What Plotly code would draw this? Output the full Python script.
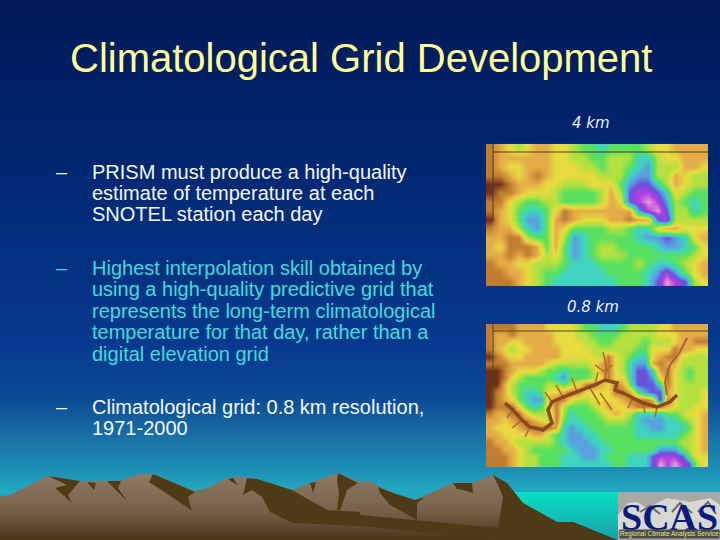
import plotly.graph_objects as go

# background colours read down the slide
bg_rows = [0, 120, 250, 350, 400, 440, 470, 490, 540]
bg_values = [0, 120, 250, 350, 400, 440, 470, 490, 540]
bg_colors = ['#001a56', '#00226a', '#03307f', '#063a90', '#0c4c96', '#1a74a8', '#1c90b4', '#22a8c0', '#22a8c0']

title = 'Climatological Grid Development'
dash_y = [172, 268, 407]
lines_white_1 = ['PRISM must produce a high-quality', 'estimate of temperature at each', 'SNOTEL station each day']
lines_white_1_y = [172, 193, 214]
lines_cyan = ['Highest interpolation skill obtained by', 'using a high-quality predictive grid that',
              'represents the long-term climatological', 'temperature for that day, rather than a', 'digital elevation grid']
lines_cyan_y = [268, 289, 311, 332, 354]
lines_white_2 = ['Climatological grid: 0.8 km resolution,', '1971-2000']
lines_white_2_y = [407, 428]

# elevation-ish class per cell, 0 = pink high, 10 = dark brown low
grid_4km = [
    [9,8,7,6,7,8,8,7,7,6,5,5,4,5,5,5,5,6,7,7,8,8,8,8],
    [9,8,8,8,8,8,8,7,7,6,6,5,5,6,6,6,4,4,6,7,7,8,8,8],
    [9,8,7,7,8,8,8,7,7,7,6,6,5,6,6,5,4,3,6,6,6,8,8,7],
    [9,9,8,7,8,9,8,7,7,7,7,7,6,6,6,4,3,3,6,6,8,7,6,6],
    [10,10,9,8,8,8,7,7,6,6,6,7,7,7,5,3,2,2,4,6,8,7,6,6],
    [10,9,9,8,7,7,7,6,5,5,5,5,6,8,6,2,1,1,2,4,7,6,5,5],
    [9,9,7,6,5,5,6,6,5,5,5,5,6,8,7,2,1,0,1,3,6,5,4,5],
    [9,8,7,5,4,4,5,7,9,8,8,8,8,8,8,8,3,1,0,2,6,6,4,5],
    [10,8,7,5,3,3,5,8,9,8,7,7,7,8,8,9,8,8,2,1,6,6,6,6],
    [9,8,8,6,4,3,5,8,7,5,5,5,5,6,6,5,4,4,7,8,8,7,7,7],
    [8,8,9,9,6,5,5,8,6,3,4,5,5,5,5,5,4,3,3,2,3,4,7,8],
    [8,7,9,9,9,8,5,8,5,3,4,5,6,6,5,5,5,5,4,3,3,4,5,7],
    [8,8,9,8,9,8,6,7,5,3,4,5,6,6,6,5,5,5,5,5,5,5,6,7],
    [9,8,8,7,7,6,6,6,5,4,4,4,5,5,5,5,6,5,4,4,5,6,7,8],
    [9,9,8,8,7,6,5,5,4,4,4,4,4,5,5,5,5,4,3,1,3,5,7,8],
    [9,9,9,8,7,6,5,4,4,4,4,4,4,4,5,5,5,4,2,0,1,2,6,7],
]

grid_08km = [
    [9,9,9,9,8,8,8,8,7,7,7,7,6,5,5,4,4,4,5,6,6,6,6,7,7,8,8,8,8,8],
    [9,8,8,9,8,8,8,8,8,7,7,7,6,6,5,5,5,5,6,6,6,6,6,7,7,7,8,8,8,8],
    [9,8,8,7,7,8,8,8,8,7,7,7,7,6,6,5,5,6,6,6,6,5,6,6,6,7,8,8,9,9],
    [9,8,7,6,7,7,8,8,8,8,7,7,7,7,6,6,6,6,6,6,5,5,7,7,7,9,8,8,7,7],
    [10,9,8,7,7,8,8,8,8,8,7,7,7,7,7,6,9,7,6,5,4,4,7,8,9,9,7,6,6,6],
    [9,9,9,8,8,8,8,8,7,6,6,6,6,6,7,8,9,7,6,4,3,3,8,9,8,8,6,6,6,6],
    [10,10,9,8,7,7,7,6,5,5,4,5,5,5,6,8,9,7,6,4,2,2,4,8,9,7,6,5,6,6],
    [10,10,9,7,6,5,5,5,5,4,3,5,5,5,6,7,9,7,7,4,2,2,3,7,9,7,6,5,6,6],
    [10,10,8,6,5,5,5,5,6,6,5,6,7,9,9,8,7,9,8,5,2,2,2,4,9,7,6,6,6,6],
    [10,9,8,6,5,4,4,5,7,7,8,9,9,7,7,7,7,9,9,8,5,3,2,2,8,7,6,6,6,7],
    [10,9,8,7,5,4,3,3,8,9,9,7,6,6,7,7,7,7,8,9,9,9,8,1,9,7,6,6,6,7],
    [10,9,9,9,7,5,4,5,7,9,6,5,5,5,6,7,8,7,7,8,9,9,9,9,8,7,6,6,7,7],
    [9,8,8,9,9,7,6,6,6,9,6,4,5,5,5,6,7,8,7,6,4,4,4,4,5,5,6,7,7,8],
    [8,8,7,8,9,9,8,7,6,9,5,4,4,5,5,5,6,6,6,5,4,3,3,3,4,4,5,6,7,8],
    [8,7,7,7,8,9,9,9,9,8,4,3,4,4,5,5,5,5,5,5,4,4,3,3,4,4,4,5,7,8],
    [8,8,7,7,7,7,8,8,6,5,4,3,3,4,4,5,5,5,5,5,4,4,4,4,4,4,5,6,7,8],
    [9,8,8,7,6,6,6,6,6,5,4,3,3,3,4,4,5,5,5,5,5,5,5,5,5,5,6,6,7,8],
    [9,9,8,8,7,6,5,5,5,5,5,4,3,3,3,4,4,5,5,5,5,5,5,3,3,3,5,6,7,8],
    [9,9,9,8,7,6,6,5,5,5,4,4,4,3,3,4,5,5,5,4,4,4,2,1,1,1,2,5,7,7],
    [9,9,9,8,7,6,6,5,5,5,4,4,4,4,4,4,4,5,5,4,4,4,2,0,1,0,1,2,6,7],
]

terrain = [
    [0.0, '#e8a0d0'], [0.1, '#b03ee0'], [0.2, '#6a50dc'], [0.3, '#58a0e0'], [0.4, '#40d4c0'],
    [0.5, '#58e060'], [0.6, '#b4e040'], [0.7, '#e8dc40'], [0.8, '#e4ac48'], [0.9, '#c07c30'], [1.0, '#703018'],
]

# canyon on the 0.8 km map
canyon_x = [505,513,522,530,543,552,548,552,563,577,587,595,605,617,615,623,633,643,657,670,677]
canyon_y = [403,410,420,427,430,423,410,402,397,392,388,385,380,383,390,393,398,403,407,402,395]
side_x = [667,665,670,680,687]
side_y = [395,382,365,352,338]
trib_x = [605,606,603,None,514,507,None,522,512,None,530,525,None,552,545,None,563,556,None,577,572,None,595,598,None,
          605,595,None,605,612,None,590,600,None,600,612,None,633,628,None,643,645,None,657,655]
trib_y = [380,365,352,None,408,418,None,420,428,None,427,437,None,402,392,None,397,385,None,392,378,None,385,372,None,
          372,365,None,372,365,None,388,405,None,393,410,None,398,408,None,403,413,None,407,417]

# mountains
ridge_x = [0,10,20,48,80,107,122,140,153,195,207,227,243,257,292,310,338,347,360,370,380,393,415,453,473,493,507,523,557,573,617,0]
ridge_y = [496,495,490,476,481,481,480,474,474,491,488,478,477,479,490,483,473,477,482,481,487,493,500,483,483,475,483,503,522,522,540,540]
shadows = [
    ([48,80,68,72,55,67], [476,481,495,503,488,485]),
    ([87,96,94], [482,483,490]),
    ([107,121,118,127], [481,481,488,501]),
    ([153,195,188,192,172,149], [474,492,497,511,497,482]),
    ([228,233,238,232], [479,478,485,482]),
    ([247,257,292,327,360,360,293,270,262,252,243], [478,479,490,510,512,526,523,512,497,490,495]),
    ([310,316,313], [483,482,493]),
    ([338,358,347,340,337,339,337], [473,483,490,511,510,493,480]),
    ([378,393,415,425,417,417,390,380], [487,493,500,497,503,520,505,493]),
    ([453,472,473,463,457], [483,483,493,490,489]),
    ([493,507,523,557,573,617,547,520,498,503,498], [475,483,503,522,522,540,540,517,528,497,485]),
    ([360,498,520,547,500,360], [515,528,517,540,540,526]),
]

# water patch and logo photo
water_x = [510, 618, 618, 510]
water_y = [492, 492, 540, 540]
logo_x = [618, 720, 720, 618]
logo_y = [492, 492, 540, 540]
snow_x = [618,628,637,647,667,690,710,720,720,618]
snow_y = [515,503,502,508,498,502,498,505,530,530]
rock_x = [640,650,660,None,672,680,692,None,698,708,716]
rock_y = [512,506,514,None,512,503,513,None,512,502,514]


def patch(x, y, **kw):
    return go.Scatter(x=x, y=y, mode='lines', fill='toself', line=dict(width=0), hoverinfo='skip', **kw)


fig = go.Figure()

fig.add_trace(go.Heatmap(x=[0, 720], y=bg_rows, z=[[v, v] for v in bg_values], zsmooth='best', showscale=False, hoverinfo='skip',
                         colorscale=[[r / 540, c] for r, c in zip(bg_rows, bg_colors)], zmin=0, zmax=540))
fig.add_trace(patch(water_x, water_y, fillgradient=dict(type='vertical', colorscale=[[0, '#1aa0a8'], [1, '#08e0c4']])))

fig.add_trace(patch(ridge_x, ridge_y, fillgradient=dict(type='vertical', colorscale=[[0, '#4a3516'], [0.45, '#76634a'], [1, '#8f7b66']])))
for sx, sy in shadows:
    fig.add_trace(patch(sx, sy, fillcolor='#4f3a17'))

fig.add_trace(patch(logo_x, logo_y, fillcolor='#a8a8a4'))
fig.add_trace(patch(snow_x, snow_y, fillcolor='#d8d8d2'))
fig.add_trace(go.Scatter(x=rock_x, y=rock_y, mode='lines', line=dict(color='#6a6a60', width=2), hoverinfo='skip'))

# maps, cell centres spread over their frames
fig.add_trace(go.Heatmap(z=grid_4km, x0=490.6, dx=222 / 24, y0=148.4, dy=142 / 16, colorscale=terrain, zmin=0, zmax=10,
                         zsmooth='best', showscale=False, hoverinfo='skip'))
fig.add_trace(go.Heatmap(z=grid_08km, x0=489.7, dx=222 / 30, y0=327.6, dy=143 / 20, colorscale=terrain, zmin=0, zmax=10,
                         zsmooth='best', showscale=False, hoverinfo='skip'))

fig.add_trace(go.Scatter(x=trib_x, y=trib_y, mode='lines', line=dict(color='#b06a28', width=1.5), hoverinfo='skip'))
fig.add_trace(go.Scatter(x=side_x, y=side_y, mode='lines', line=dict(color='#a8642c', width=2), hoverinfo='skip'))
fig.add_trace(go.Scatter(x=canyon_x, y=canyon_y, mode='lines', line=dict(color='#8a4a1c', width=3.5), hoverinfo='skip'))

# state border lines on both maps
fig.add_trace(go.Scatter(x=[493, 493, None, 493, 708], y=[144, 222, None, 152, 152], mode='lines', line=dict(color='#4a3a20', width=1), hoverinfo='skip'))
fig.add_trace(go.Scatter(x=[493, 493, None, 493, 708], y=[324, 402, None, 331, 331], mode='lines', line=dict(color='#4a4a20', width=1), hoverinfo='skip'))

annotations = [dict(x=360.5, y=58, text=title, showarrow=False, font=dict(family='Liberation Sans', size=40, color='#ffff99'))]


def body_line(text, y, color):
    return dict(x=90, y=y, text=text, showarrow=False, xanchor='left', yanchor='middle',
                font=dict(family='Liberation Sans', size=20, color=color))


for y, c in zip(dash_y, ['#f4f8ff', '#40dcdc', '#f4f8ff']):
    annotations.append(dict(x=54, y=y, text='–', showarrow=False, xanchor='left', yanchor='middle',
                            font=dict(family='Liberation Sans', size=20, color=c)))
for t, y in zip(lines_white_1, lines_white_1_y):
    annotations.append(body_line(t, y, '#f4f8ff'))
for t, y in zip(lines_cyan, lines_cyan_y):
    annotations.append(body_line(t, y, '#40dcdc'))
for t, y in zip(lines_white_2, lines_white_2_y):
    annotations.append(body_line(t, y, '#f4f8ff'))

annotations.append(dict(x=591, y=123, text='<i>4 km</i>', showarrow=False, font=dict(family='DejaVu Sans', size=15, color='#e8f0ff')))
annotations.append(dict(x=593, y=307, text='<i>0.8 km</i>', showarrow=False, font=dict(family='DejaVu Sans', size=15, color='#e8f0ff')))
annotations.append(dict(x=669, y=517, text='<b>SCAS</b>', showarrow=False, font=dict(family='Liberation Serif', size=38, color='#0a1a80')))
annotations.append(dict(x=669, y=534, text='Regional Climate Analysis Service', showarrow=False, borderpad=0, bgcolor='#4a4a50',
                        font=dict(family='Liberation Sans', size=6.5, color='#f0e878')))

fig.update_layout(
    width=720, height=540, margin=dict(l=0, r=0, t=0, b=0), showlegend=False,
    annotations=annotations,
    xaxis=dict(range=[0, 720], visible=False, fixedrange=True),
    yaxis=dict(range=[540, 0], visible=False, fixedrange=True),
)

# page margin off so the slide fills the window
fig.write_html('out.html', config={'displayModeBar': False}, post_script="document.body.style.margin='0';")
